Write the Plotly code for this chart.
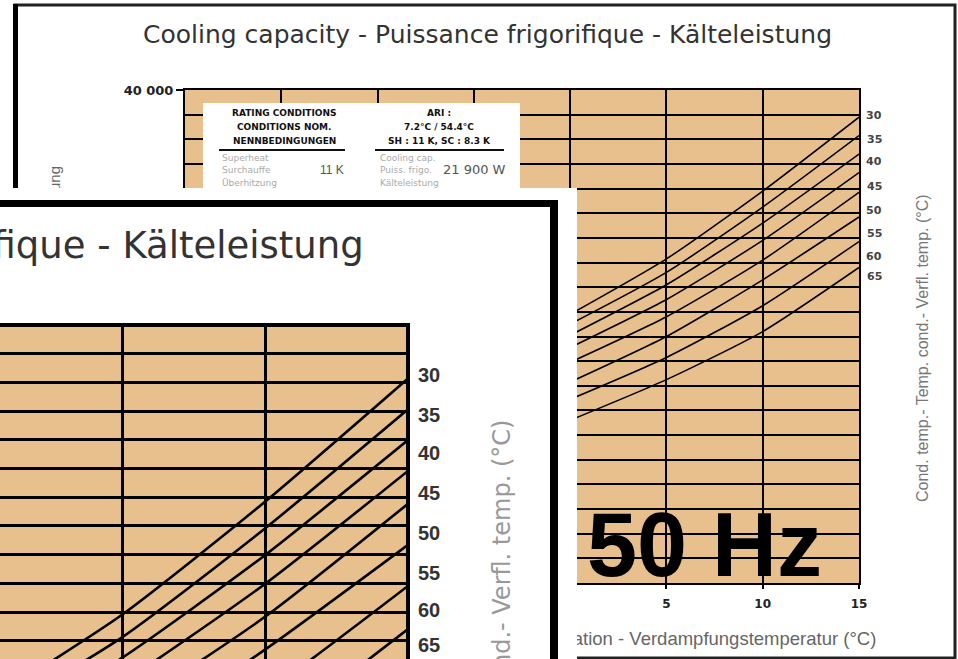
import plotly.graph_objects as go

W, H = 958, 659


def fx(p):
    return p / W


def fy(p):
    return 1 - p / H


# ---------------- data ----------------
evap_temp = [0, 5, 10, 15]
cond_temps = ["30", "35", "40", "45", "50", "55", "60", "65"]
cap_30 = [21800, 26300, 31800, 37800]
cap_35 = [21000, 25200, 30500, 36300]
cap_40 = [20100, 24200, 29200, 34800]
cap_45 = [19100, 23000, 27800, 33300]
cap_50 = [17900, 21600, 26200, 31700]
cap_55 = [16300, 20000, 24600, 29700]
cap_60 = [14900, 18300, 22500, 27700]
cap_65 = [13200, 16500, 20400, 25600]
capacities = [cap_30, cap_35, cap_40, cap_45, cap_50, cap_55, cap_60, cap_65]
label_cap = [37970, 36020, 34160, 32210, 30260, 28320, 26530, 24830]
x_ticks = [-20, -15, -10, -5, 0, 5, 10, 15]
y_top_label = "40 000"

TAN = "#E8C08E"
FONT = "Liberation Sans, Arial, sans-serif"
WIDE = "DejaVu Sans, Verdana, sans-serif"

fig = go.Figure()

# main chart curves
for caps in capacities:
    fig.add_trace(go.Scatter(x=evap_temp, y=caps, mode="lines",
                             line=dict(color="black", width=1.6, shape="spline", smoothing=0.6),
                             xaxis="x", yaxis="y", hoverinfo="skip", showlegend=False))

# white sheet of the enlarged copy (covers the lower-left of the main chart)
fig.add_trace(go.Scatter(x=[-0.1, 1.1, 1.1, -0.1, -0.1], y=[-0.1, -0.1, 1.1, 1.1, -0.1],
                         mode="lines", fill="toself", fillcolor="white",
                         line=dict(width=0, color="white"),
                         xaxis="x2", yaxis="y2", hoverinfo="skip", showlegend=False))

# enlarged copy curves
for caps in capacities:
    fig.add_trace(go.Scatter(x=evap_temp, y=caps, mode="lines",
                             line=dict(color="black", width=2.6, shape="spline", smoothing=0.6),
                             xaxis="x3", yaxis="y3", hoverinfo="skip", showlegend=False))

# inset scales
x3_px_per_deg = 28.6
x3_left = 15 - 408 / x3_px_per_deg
y3_px_per_w = 0.02055
y3_top = 40400
y3_bottom = y3_top - (H - 325) / y3_px_per_w
y3_grid = 28.7 / y3_px_per_w

annotations = []
# main curve labels
for lab, q in zip(cond_temps, label_cap):
    annotations.append(dict(x=15, y=q, xref="x", yref="y", text="<b>" + lab + "</b>", showarrow=False,
                            xanchor="center", yanchor="middle",
                            xshift=15, font=dict(family=WIDE, size=11, color="#444")))
# inset curve labels
for lab, q in zip(cond_temps, label_cap):
    annotations.append(dict(x=15, y=q, xref="x3", yref="y3", text="<b>" + lab + "</b>", showarrow=False,
                            xanchor="center", yanchor="middle",
                            xshift=21, font=dict(family=FONT, size=20, color="#333")))


def pa(x, y, text, font, xanchor="center", yanchor="middle", angle=0):
    annotations.append(dict(x=fx(x), y=fy(y), xref="paper", yref="paper", text=text,
                            showarrow=False, xanchor=xanchor, yanchor=yanchor,
                            textangle=angle, font=font))


# main title
pa(487, 35, "Cooling capacity - Puissance frigorifique - Kälteleistung",
   dict(family=WIDE, size=25, color="#333"))
# main right title
pa(922, 348, "Cond. temp.- Temp. cond.- Verfl. temp. (°C)",
   dict(family=FONT, size=16, color="#777"), angle=-90)
# 50 Hz
pa(585, 545, "<b>50 Hz</b>", dict(family=FONT, size=90, color="black"), xanchor="left")

# table texts
hdr = dict(family=WIDE, size=9, color="#111")
body = dict(family=WIDE, size=9, color="#aaa")
for txt, yy in [("<b>RATING CONDITIONS</b>", 113), ("<b>CONDITIONS NOM.</b>", 127), ("<b>NENNBEDINGUNGEN</b>", 141)]:
    pa(284, yy, txt, hdr)
for txt, yy in [("<b>ARI :</b>", 113), ("<b>7.2°C / 54.4°C</b>", 127), ("<b>SH : 11 K, SC : 8.3 K</b>", 141)]:
    pa(439, yy, txt, hdr)
for txt, yy in [("Superheat", 158), ("Surchauffe", 170), ("Überhitzung", 183)]:
    pa(220, yy, txt, body, xanchor="left")
for txt, yy in [("Cooling cap.", 158), ("Puiss. frigo.", 170), ("Kälteleistung", 183)]:
    pa(378, yy, txt, body, xanchor="left")
pa(346, 170, "11 K", dict(family=FONT, size=12, color="#555"), xanchor="right")
pa(508, 170, "21 900 W", dict(family=WIDE, size=13, color="#555"), xanchor="right")

# inset title and right title
pa(366, 245, "Cooling capacity - Puissance frigorifique - Kälteleistung",
   dict(family=WIDE, size=37, color="#333"), xanchor="right")
pa(502, 418, "Cond. temp.- Temp. cond.- Verfl. temp. (°C)",
   dict(family=WIDE, size=24, color="#999"), yanchor="top", angle=-90)

shapes = [
    # outer frame of the main sheet (below the enlarged copy)
    dict(type="rect", xref="paper", yref="paper", x0=fx(15), x1=fx(955), y0=fy(658), y1=fy(5),
         line=dict(color="#222", width=3), layer="below"),
    dict(type="line", xref="paper", yref="paper", x0=fx(15.5), x1=fx(15.5), y0=fy(659), y1=fy(4),
         line=dict(color="black", width=5), layer="below"),
    # main y title (mostly hidden by the enlarged copy)
    dict(type="line", xref="paper", yref="paper", x0=fx(53), x1=fx(53), y0=fy(349), y1=fy(349),
         line=dict(width=0), layer="below",
         label=dict(text="Cooling capacity - Puissance frigorifique - Kälteleistung",
                    textangle=-90, textposition="middle", xanchor="center", yanchor="middle",
                    font=dict(family=FONT, size=15, color="#666"))),
    # main x title (partly hidden)
    dict(type="line", xref="paper", yref="paper", x0=fx(525), x1=fx(525), y0=fy(637), y1=fy(637),
         line=dict(width=0), layer="below",
         label=dict(text="Evaporating temperature - Température d'évaporation - Verdampfungstemperatur (°C)",
                    textangle=0, textposition="middle", xanchor="center", yanchor="middle",
                    font=dict(family=FONT, size=18.5, color="#666"))),
    # rating table
    dict(type="rect", xref="paper", yref="paper", x0=fx(203), x1=fx(520), y0=fy(188), y1=fy(103),
         fillcolor="white", line=dict(width=0), layer="above"),
    dict(type="line", xref="paper", yref="paper", x0=fx(219), x1=fx(345), y0=fy(150), y1=fy(150),
         line=dict(color="#111", width=2), layer="above"),
    dict(type="line", xref="paper", yref="paper", x0=fx(375), x1=fx(504), y0=fy(150), y1=fy(150),
         line=dict(color="#111", width=2), layer="above"),
    # frame of the enlarged copy
    dict(type="line", xref="paper", yref="paper", x0=fx(-5), x1=fx(558), y0=fy(203.5), y1=fy(203.5),
         line=dict(color="black", width=7), layer="above"),
    dict(type="line", xref="paper", yref="paper", x0=fx(554), x1=fx(554), y0=fy(200), y1=fy(665),
         line=dict(color="black", width=8), layer="above"),
    # border of the enlarged plot area (top and right)
    dict(type="line", xref="x3 domain", yref="y3 domain", x0=-0.01, x1=1.005, y0=1, y1=1,
         line=dict(color="black", width=4), layer="above"),
    dict(type="line", xref="x3 domain", yref="y3 domain", x0=1, x1=1, y0=-0.02, y1=1.005,
         line=dict(color="black", width=4), layer="above"),
]

fig.update_layout(
    width=W, height=H, margin=dict(l=0, r=0, t=0, b=0, autoexpand=False),
    paper_bgcolor="white", plot_bgcolor=TAN, showlegend=False,
    xaxis=dict(domain=[fx(185), fx(859)], range=[-20, 15], tickmode="array", tickvals=x_ticks,
               ticktext=["<b>%d</b>" % v for v in x_ticks], ticks="outside", ticklen=4, tickwidth=1.5,
               tickcolor="black", showgrid=True, gridcolor="black", gridwidth=2,
               showline=True, mirror=True, linecolor="black", linewidth=2, zeroline=False,
               ticklabelstandoff=5, tickfont=dict(family=WIDE, size=12, color="#222"), fixedrange=True),
    yaxis=dict(domain=[fy(583), fy(90)], range=[0, 40000], tickmode="array", tickvals=[40000],
               ticktext=["<b>" + y_top_label + "</b>"], ticks="outside", ticklen=7, tickwidth=1.5,
               tickcolor="black",
               showgrid=False, minor=dict(dtick=2000, tick0=0, showgrid=True, gridcolor="black",
                                          gridwidth=2, ticks=""),
               showline=True, mirror=True, linecolor="black", linewidth=2, zeroline=False,
               tickfont=dict(family=WIDE, size=13, color="#222"), fixedrange=True),
    xaxis2=dict(domain=[0, fx(577)], range=[0, 1], visible=False, fixedrange=True),
    yaxis2=dict(domain=[0, fy(188)], range=[0, 1], visible=False, fixedrange=True),
    xaxis3=dict(domain=[0, fx(408)], range=[x3_left, 15], showline=False,
                tickmode="array", tickvals=[5, 10],
                showticklabels=False, ticks="", showgrid=True, gridcolor="black", gridwidth=3,
                zeroline=False, fixedrange=True),
    yaxis3=dict(domain=[0, fy(325)], range=[y3_bottom, y3_top], showline=False,
                tickmode="linear", tick0=y3_top, dtick=y3_grid,
                showticklabels=False, ticks="", showgrid=True, gridcolor="black", gridwidth=3,
                zeroline=False, fixedrange=True),
    annotations=annotations, shapes=shapes,
)

fig.write_html("out.html", config={"displayModeBar": False},
               post_script="document.body.style.margin='0px';document.body.style.overflow='hidden';")
